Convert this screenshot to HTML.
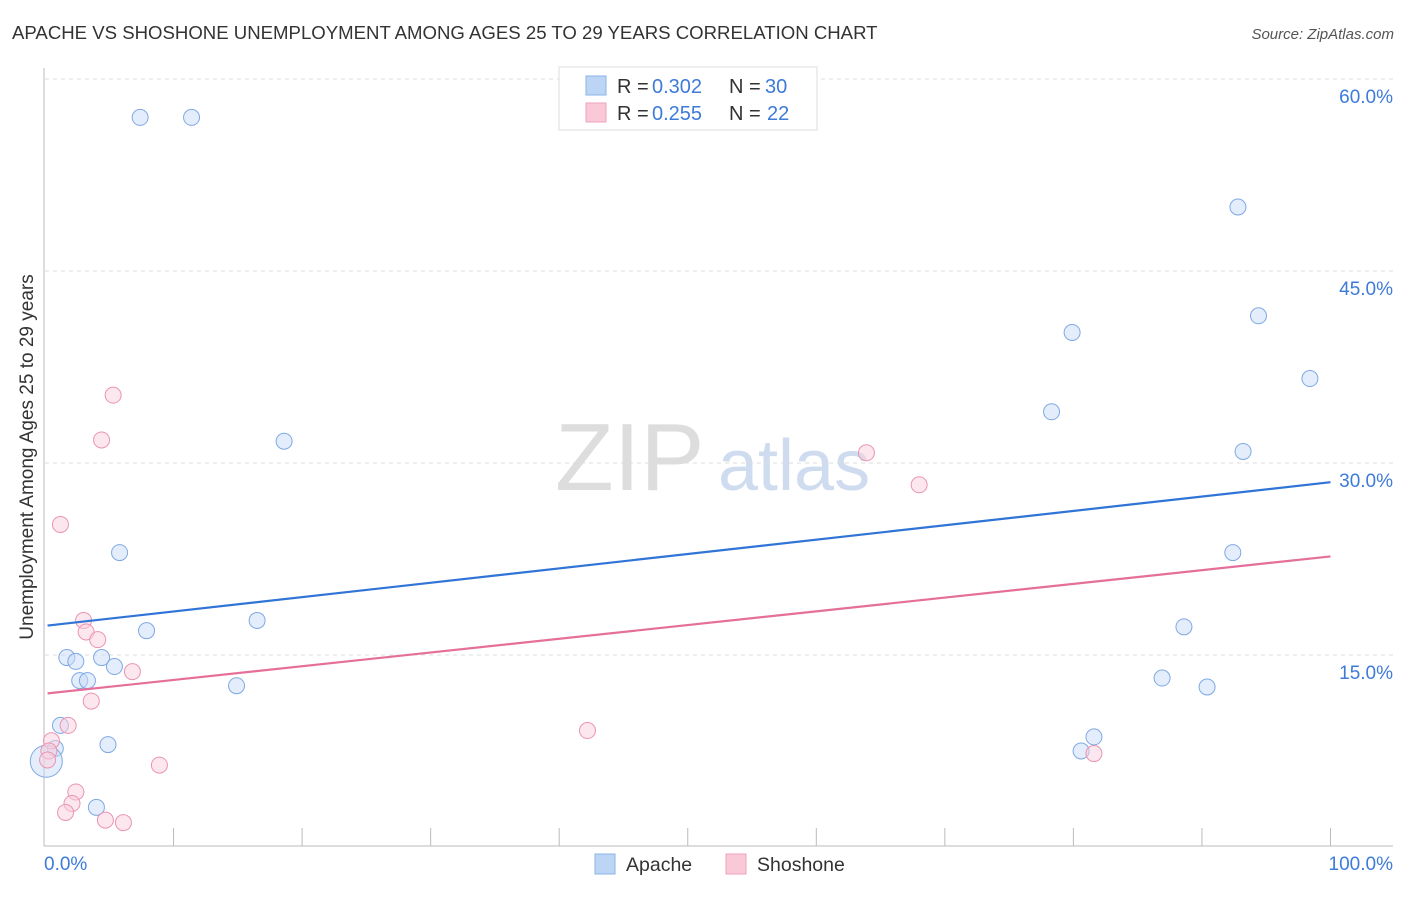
<!DOCTYPE html>
<html><head><meta charset="utf-8"><style>
body{margin:0;background:#fff;font-family:"Liberation Sans",sans-serif;}
svg text{font-family:"Liberation Sans",sans-serif;}
</style></head><body>
<svg id="chart" width="1406" height="892">
<text x="12" y="39" font-size="18.6" fill="#333">APACHE VS SHOSHONE UNEMPLOYMENT AMONG AGES 25 TO 29 YEARS CORRELATION CHART</text>
<text x="1394" y="39" font-size="15" fill="#555" font-style="italic" text-anchor="end">Source: ZipAtlas.com</text>
<text x="33" y="457" font-size="19" fill="#333" text-anchor="middle" transform="rotate(-90 33 457)">Unemployment Among Ages 25 to 29 years</text>
<text x="555" y="490" font-size="96" fill="#ddd" font-family="Liberation Serif">ZIP</text>
<text x="718" y="490" font-size="72" fill="#cfdcef">atlas</text>
<g id="grid"></g><g id="axes"></g><g id="marks"></g>
<g>
<rect x="559" y="67" width="258" height="63" fill="#fff" stroke="#ddd"/>
<rect x="586" y="76" width="20" height="19" fill="#bcd5f5" stroke="#8ab3e8"/>
<rect x="586" y="103" width="20" height="19" fill="#f9c9d8" stroke="#eea2ba"/>
<text x="617" y="93" font-size="20" fill="#333">R =</text><text x="652" y="93" font-size="20" fill="#3d7bd8">0.302</text>
<text x="729" y="93" font-size="20" fill="#333">N =</text><text x="765" y="93" font-size="20" fill="#3d7bd8">30</text>
<text x="617" y="120" font-size="20" fill="#333">R =</text><text x="652" y="120" font-size="20" fill="#3d7bd8">0.255</text>
<text x="729" y="120" font-size="20" fill="#333">N =</text><text x="767" y="120" font-size="20" fill="#3d7bd8">22</text>
</g>
<g>
<rect x="595" y="854" width="20" height="20" fill="#bcd5f5" stroke="#8ab3e8"/>
<text x="626" y="871" font-size="19.5" fill="#333">Apache</text>
<rect x="726" y="854" width="20" height="20" fill="#f9c9d8" stroke="#eea2ba"/>
<text x="757" y="871" font-size="19.5" fill="#333">Shoshone</text>
</g>
</svg>
<script>
const yTicks=[15,30,45,60];
const yTickLabels=["15.0%","30.0%","45.0%","60.0%"];
const apacheX=[7.4,11.4,92.8,94.4,79.9,98.4,78.3,93.2,18.6,5.8,92.4,7.9,16.5,88.6,1.7,2.4,4.4,5.4,2.7,3.3,14.9,86.9,90.4,1.2,0.8,4.9,81.6,80.6,4.0,0.1];
const apacheY=[57.0,57.0,50.0,41.5,40.2,36.6,34.0,30.9,31.7,23.0,23.0,16.9,17.7,17.2,14.8,14.5,14.8,14.1,13.0,13.0,12.6,13.2,12.5,9.5,7.7,8.0,8.6,7.5,3.1,6.7];
const shoshoneX=[5.3,4.4,1.2,63.9,68.0,3.0,3.2,4.1,6.8,3.6,1.8,42.2,0.5,8.9,81.6,2.4,2.1,1.6,4.7,6.1,0.3,0.2];
const shoshoneY=[35.3,31.8,25.2,30.8,28.3,17.7,16.8,16.2,13.7,11.4,9.5,9.1,8.3,6.4,7.3,4.3,3.4,2.7,2.1,1.9,7.5,6.8];
const apacheTrend=[17.3,28.5];
const shoshoneTrend=[12.0,22.7];
const NS="http://www.w3.org/2000/svg";
const xs=v=>45+v*12.855, ys=v=>847-v*12.8;
function mk(t,a,p){const e=document.createElementNS(NS,t);for(const k in a)e.setAttribute(k,a[k]);document.getElementById(p).appendChild(e);return e;}
yTicks.forEach((t,i)=>{
 const g=mk('line',{x1:45,x2:1393,y1:ys(t),y2:ys(t),stroke:'#ddd','stroke-dasharray':'4 4'},'grid');
 
 
 const l=mk('text',{x:1393,y:ys(t)+24,'font-size':19,fill:'#3d7bd8','text-anchor':'end'},'grid');
 l.textContent=yTickLabels[i];
 
 
});
mk('line',{x1:44,x2:44,y1:68,y2:846,stroke:'#bbb'},'axes');
mk('line',{x1:44,x2:1393,y1:846,y2:846,stroke:'#bbb'},'axes');
for(let i=1;i<=10;i++){const t=mk('line',{x1:xs(i*10),x2:xs(i*10),y1:828,y2:846,stroke:'#bbb'},'axes');
 
 }
const x0=mk('text',{x:44,y:870,'font-size':19,fill:'#3d7bd8'},'axes');x0.textContent='0.0%';


const x1=mk('text',{x:1393,y:870,'font-size':19,fill:'#3d7bd8','text-anchor':'end'},'axes');x1.textContent='100.0%';


function pts(X,Y,f,s,name){X.forEach((x,i)=>{const r=(name==='apache-point'&&i===X.length-1)?16:8;
 const c=mk('circle',{cx:xs(x),cy:ys(Y[i]),r:r,fill:f,'fill-opacity':0.5,stroke:s,'stroke-width':1},'marks');
 
 });}
pts(apacheX,apacheY,'#c7dcf7','#7fa9e3','apache-point');
pts(shoshoneX,shoshoneY,'#fbd0de','#ea94b2','shoshone-point');
const t1=mk('line',{x1:xs(0.2),x2:xs(100),y1:ys(apacheTrend[0]),y2:ys(apacheTrend[1]),stroke:'#2f74d6','stroke-width':2.2},'marks');


const t2=mk('line',{x1:xs(0.2),x2:xs(100),y1:ys(shoshoneTrend[0]),y2:ys(shoshoneTrend[1]),stroke:'#e56f98','stroke-width':2.2},'marks');


</script>
</body></html>
